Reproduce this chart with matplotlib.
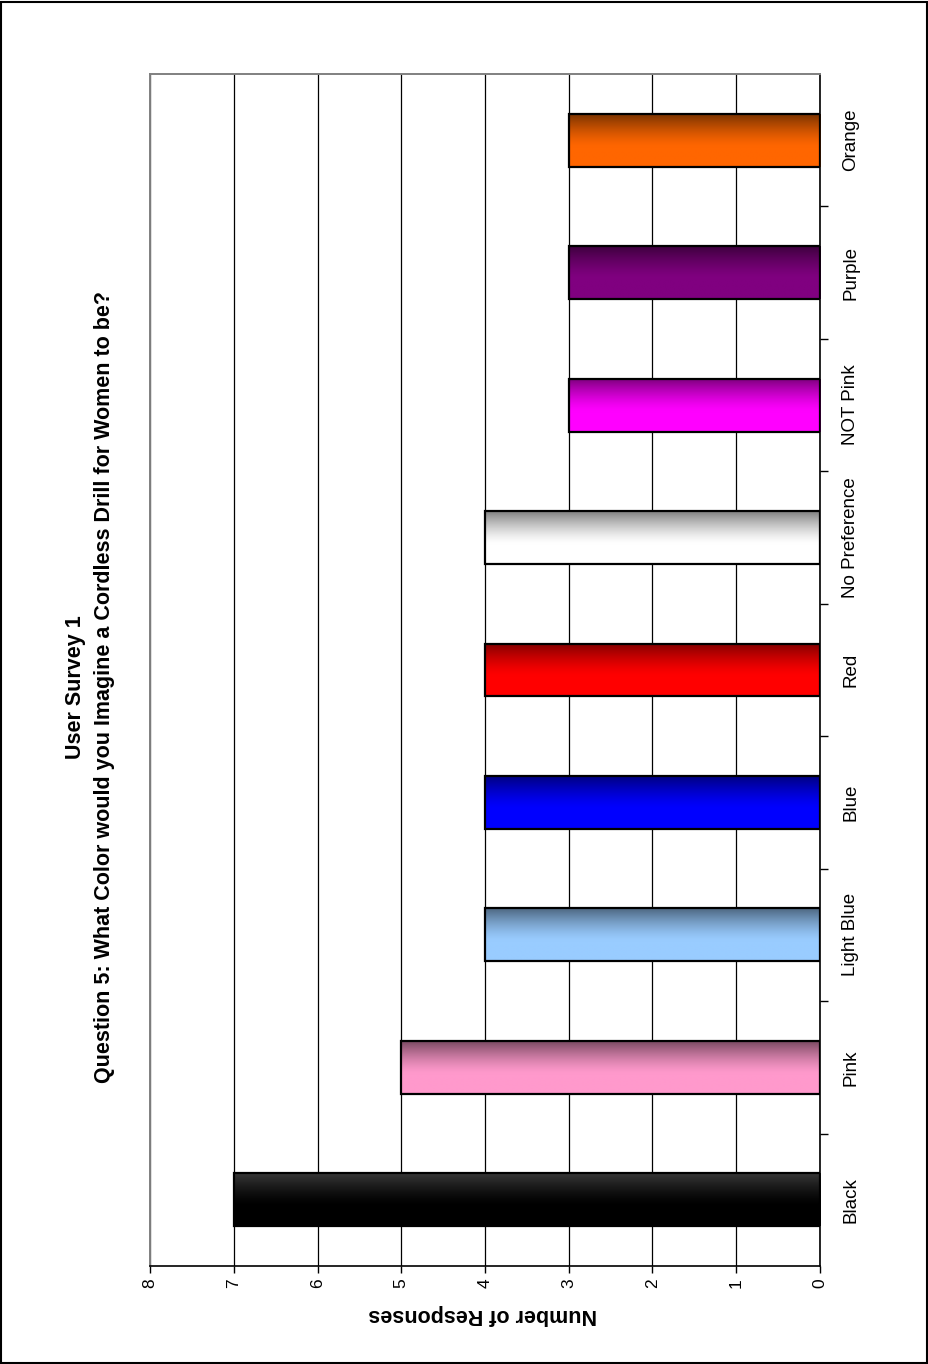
import numpy as np
import matplotlib
matplotlib.use("Agg")
import matplotlib.pyplot as plt
from matplotlib.colors import to_rgb
from matplotlib.patches import Rectangle

plt.rcParams["font.family"] = ["Liberation Sans", "DejaVu Sans"]

# survey answers, Question 5
categories = ["Black", "Pink", "Light Blue", "Blue", "Red",
              "No Preference", "NOT Pink", "Purple", "Orange"]
responses = [7, 5, 4, 4, 4, 4, 3, 3, 3]
value_ticks = [0, 1, 2, 3, 4, 5, 6, 7, 8]

# (top, bottom) shade for every bar's fill
shades = [
    ("#383838", "#000000"),
    ("#7a4a62", "#ff99cc"),
    ("#4d6680", "#99ccff"),
    ("#000080", "#0000ff"),
    ("#800000", "#ff0000"),
    ("#808080", "#ffffff"),
    ("#800080", "#ff00ff"),
    ("#3d003d", "#800080"),
    ("#7a3300", "#ff6600"),
]

W, H = 929, 1364
fig = plt.figure(figsize=(W / 100, H / 100), dpi=100)
ax = fig.add_axes([150 / W, 1 - 1266 / H, 670 / W, 1192 / H])

bar_h = 0.4
ypos = np.arange(len(categories))


def gradient(top, bottom, n=200):
    s = np.linspace(0, 1, n)
    t = np.clip(s / 0.62, 0, 1)
    t = 1 - (1 - t) ** 1.4
    c0, c1 = np.array(to_rgb(top)), np.array(to_rgb(bottom))
    return (c0[None, :] * (1 - t[:, None]) + c1[None, :] * t[:, None])[:, None, :]


for y, v, (top, bot) in zip(ypos, responses, shades):
    ax.imshow(gradient(top, bot), extent=(0, v, y - bar_h / 2, y + bar_h / 2),
              origin="upper", aspect="auto", interpolation="bilinear", zorder=2)
ax.barh(ypos, responses, height=bar_h, facecolor="none",
        edgecolor="black", linewidth=1.6, zorder=3)

ax.set_xlim(8, 0)
ax.set_ylim(-0.5, len(categories) - 0.5)

# value axis along the bottom
ax.set_xticks(value_ticks)
ax.set_xticklabels([str(v) for v in value_ticks], rotation=90, fontsize=12.5)
ax.tick_params(axis="x", direction="out", length=5, width=1, pad=4)
ax.xaxis.grid(True, color="black", linewidth=0.9, zorder=1)
ax.set_axisbelow(True)

# categories on the right, separators as small ticks
ax.yaxis.tick_right()
ax.set_yticks(ypos)
ax.set_yticklabels(categories, rotation=90, va="center", fontsize=13.5)
ax.tick_params(axis="y", which="major", length=0, pad=16)
ax.set_yticks(np.arange(0.5, len(categories) - 1, 1.0), minor=True)
ax.tick_params(axis="y", which="minor", direction="out", length=6, width=1)

for side in ("top", "left"):
    ax.spines[side].set_color("#808080")
    ax.spines[side].set_linewidth(1.4)
for side in ("bottom", "right"):
    ax.spines[side].set_color("black")
    ax.spines[side].set_linewidth(1.2)

fig.text(90 / W, 1 - 687 / H,
         "User Survey 1\nQuestion 5: What Color would you Imagine a Cordless Drill for Women to be?",
         rotation=90, ha="center", va="center", multialignment="center",
         fontsize=15.5, fontweight="bold", linespacing=1.45)
fig.text(483 / W, 1 - 1315 / H, "Number of Responses", rotation=180,
         ha="center", va="center", fontsize=15.5, fontweight="bold")

fig.patches.append(Rectangle((1 / W, 1 / H), 1 - 3 / W, 1 - 3 / H,
                             transform=fig.transFigure, fill=False,
                             edgecolor="black", linewidth=1.5))

fig.savefig("out.png", dpi=100)
